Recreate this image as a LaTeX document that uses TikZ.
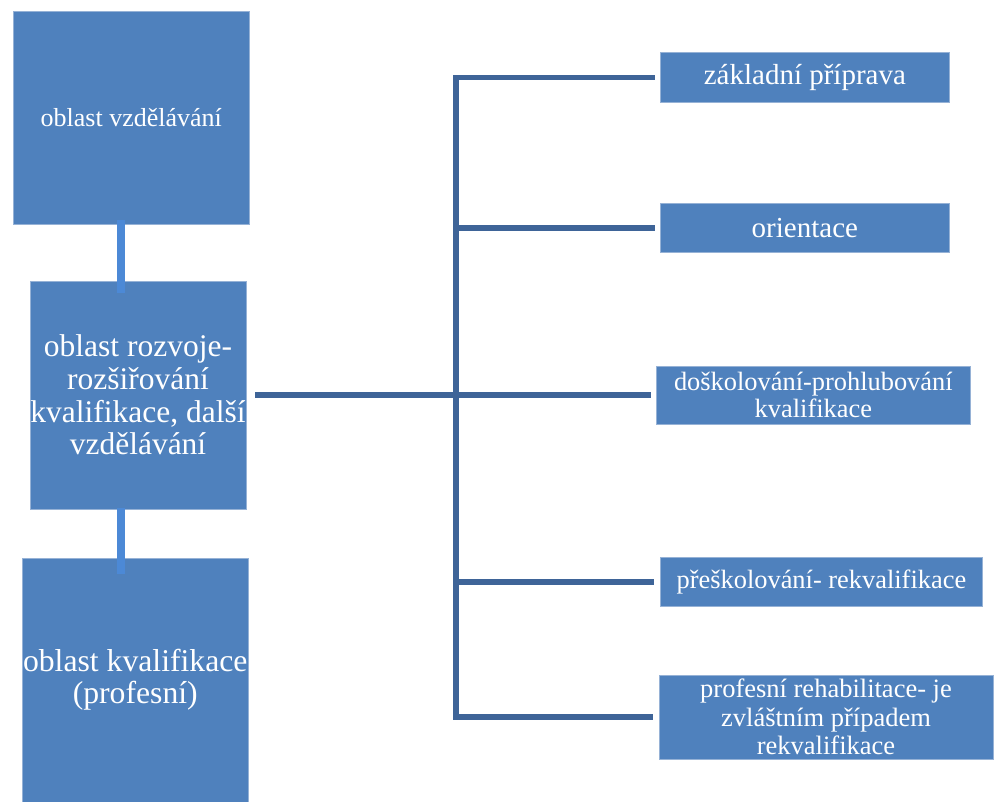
\documentclass[tikz,border=0pt]{standalone}
\usepackage{fontspec}
\setmainfont{Liberation Serif}
\usetikzlibrary{calc}
\definecolor{boxblue}{RGB}{79,129,189}
\definecolor{boxedge}{RGB}{150,178,214}
\definecolor{darkline}{RGB}{62,100,152}
\definecolor{lightline}{RGB}{76,137,214}
\tikzset{
  box/.style={rectangle, fill=boxblue, draw=boxedge, line width=0.8pt, text=white,
    align=center, inner sep=0pt, outer sep=0pt},
  darkconn/.style={draw=darkline, line width=5.5pt, line join=miter, line cap=butt},
  lightconn/.style={draw=lightline, line width=7.5pt, line cap=butt},
}
\begin{document}
\begin{tikzpicture}[x=1pt,y=-1pt]
\useasboundingbox (0,0) rectangle (995,801);
% left column
\node[box, minimum width=235.5pt, minimum height=213pt,
  font=\fontsize{26}{30}\selectfont] (b1) at (131.25,117.5) {oblast vzdělávání};
\node[box, minimum width=216pt, minimum height=228pt,
  font=\fontsize{31.5}{32.7}\selectfont] (b2) at (138,395)
  {oblast rozvoje-\\rozšiřování\\kvalifikace, další\\vzdělávání};
\node[box, minimum width=226.5pt, minimum height=244pt,
  font=\fontsize{31.7}{32}\selectfont] (b3) at (135.25,680)
  {oblast kvalifikace\\(profesní)};
% light connectors
\coordinate (l1t) at (121,220);
\coordinate (l1b) at (121,293);
\coordinate (l2t) at (121,508);
\coordinate (l2b) at (121,574);
\draw[lightconn] (l1t) -- (l1b);
\draw[lightconn] (l2t) -- (l2b);
% right column
\node[box, minimum width=288.3pt, minimum height=49.3pt,
  font=\fontsize{29}{30}\selectfont] (r1) at (804.85,77.4) {základní příprava};
\node[box, minimum width=288.3pt, minimum height=49.4pt,
  font=\fontsize{29}{30}\selectfont] (r2) at (804.85,228) {orientace};
\node[box, minimum width=313.3pt, minimum height=58pt,
  font=\fontsize{26.4}{27}\selectfont] (r3) at (813.35,395)
  {doškolování-prohlubování\\kvalifikace};
\node[box, minimum width=322pt, minimum height=49.4pt,
  font=\fontsize{26.4}{27}\selectfont] (r4) at (821.4,582) {přeškolování- rekvalifikace};
\node[box, minimum width=334pt, minimum height=84pt,
  font=\fontsize{26.5}{28.3}\selectfont] (r5) at (826,717)
  {profesní rehabilitace- je\\zvláštním případem\\rekvalifikace};
% dark tree
\coordinate (trunk) at (456,0);
\draw[darkconn] ($(r1.west)+(-6,0)$) -- (r1.west -| trunk) -- (r5.west -| trunk) -- ($(r5.west)+(-6,0)$);
\draw[darkconn] (r2.west -| trunk) -- ($(r2.west)+(-6,0)$);
\draw[darkconn] (r4.west -| trunk) -- ($(r4.west)+(-6,0)$);
\draw[darkconn] ($(b2.east)+(9,0)$) -- ($(r3.west)+(-6,0)$);
\end{tikzpicture}
\end{document}
